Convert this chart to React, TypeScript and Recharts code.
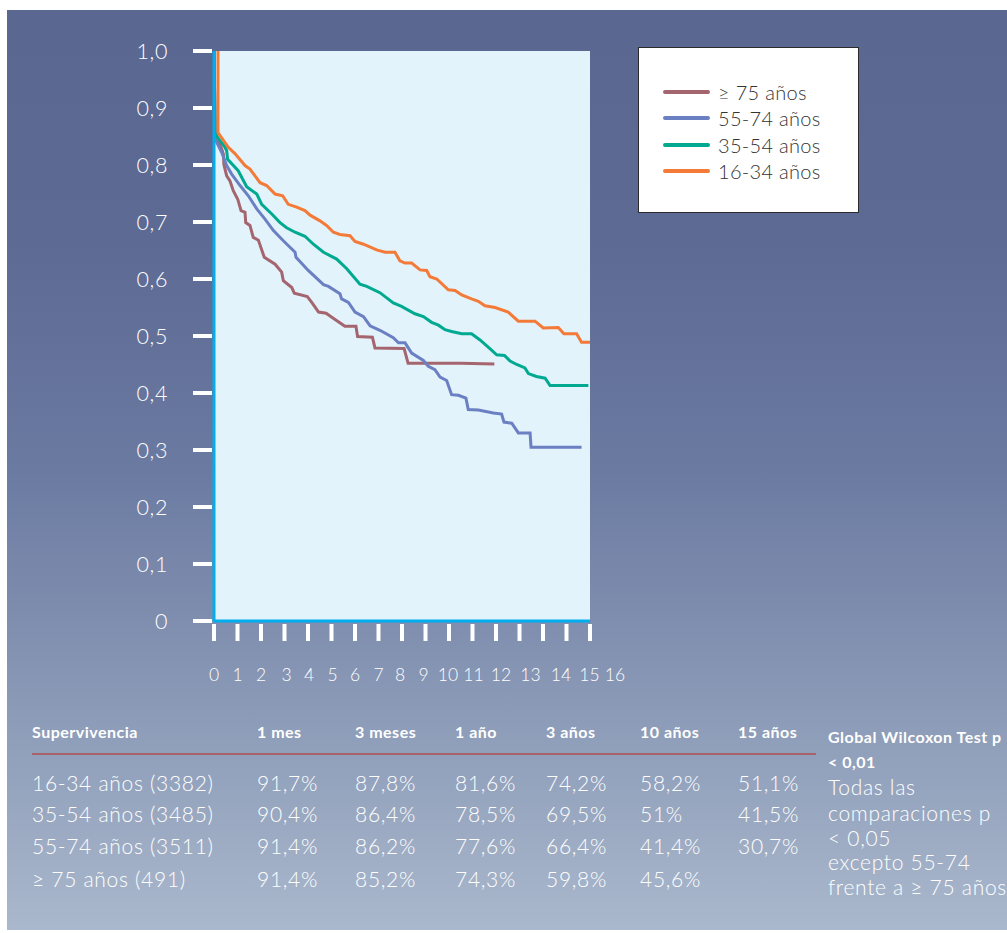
import React from 'react';
import { LineChart, Line, XAxis, YAxis, CartesianGrid, Legend } from 'recharts';

// ---- data ----
const seriesNames = ['≥ 75 años', '55-74 años', '35-54 años', '16-34 años'];
const seriesColors = ['#a5656f', '#6b7fc3', '#00a98f', '#f47a38'];

const age75plus: [number, number][] = [
  [0, 1], [0.05, 0.86], [0.16, 0.845], [0.33, 0.828], [0.4, 0.819], [0.42, 0.801], [0.54, 0.781],
  [0.68, 0.772], [0.82, 0.755], [1.01, 0.74], [1.15, 0.72], [1.32, 0.717], [1.35, 0.699], [1.53, 0.694],
  [1.67, 0.673], [1.89, 0.668], [2.14, 0.638], [2.6, 0.626], [2.88, 0.612], [2.95, 0.597], [3.31, 0.585],
  [3.42, 0.575], [3.97, 0.569], [4.16, 0.559], [4.45, 0.542], [4.77, 0.54], [5.12, 0.53], [5.57, 0.517],
  [6.04, 0.517], [6.11, 0.499], [6.74, 0.498], [6.85, 0.479], [8.09, 0.478], [8.26, 0.452], [10.5, 0.452],
  [11.93, 0.451],
];
const age55to74: [number, number][] = [
  [0, 1], [0.05, 0.855], [0.09, 0.842], [0.33, 0.822], [0.54, 0.799], [0.75, 0.784], [1.11, 0.764],
  [1.46, 0.746], [1.82, 0.723], [2.17, 0.705], [2.53, 0.685], [2.95, 0.667], [3.45, 0.647], [3.49, 0.638],
  [4.01, 0.615], [4.66, 0.59], [4.87, 0.587], [5.36, 0.574], [5.43, 0.565], [5.72, 0.559], [6.0, 0.542],
  [6.36, 0.534], [6.64, 0.518], [7.06, 0.51], [7.63, 0.497], [7.85, 0.488], [8.13, 0.488], [8.41, 0.47],
  [8.91, 0.457], [9.12, 0.447], [9.4, 0.441], [9.62, 0.428], [9.9, 0.422], [10.11, 0.397], [10.4, 0.396],
  [10.72, 0.391], [10.82, 0.371], [11.25, 0.37], [11.89, 0.365], [12.24, 0.363], [12.34, 0.349],
  [12.67, 0.347], [12.95, 0.33], [13.45, 0.33], [13.49, 0.305], [15.64, 0.305],
];
const age35to54: [number, number][] = [
  [0, 1], [0.05, 0.854], [0.47, 0.831], [0.54, 0.825], [0.58, 0.81], [1.03, 0.79], [1.39, 0.762],
  [1.82, 0.749], [2.03, 0.731], [2.46, 0.714], [2.81, 0.699], [3.09, 0.69], [3.45, 0.682], [3.87, 0.675],
  [4.23, 0.661], [4.66, 0.647], [5.22, 0.635], [5.65, 0.618], [6.21, 0.591], [6.5, 0.587], [7.06, 0.576],
  [7.63, 0.558], [7.98, 0.552], [8.55, 0.539], [8.91, 0.534], [9.26, 0.524], [9.55, 0.519], [9.83, 0.511],
  [10.11, 0.508], [10.54, 0.504], [10.96, 0.504], [11.32, 0.493], [11.74, 0.478], [12.03, 0.467],
  [12.36, 0.466], [12.6, 0.456], [12.88, 0.45], [13.23, 0.444], [13.38, 0.434], [13.72, 0.429],
  [14.09, 0.426], [14.3, 0.413], [15.93, 0.413],
];
const age16to34: [number, number][] = [
  [0.17, 1], [0.17, 0.857], [0.61, 0.831], [0.89, 0.82], [1.32, 0.799], [1.53, 0.793], [1.96, 0.769],
  [2.24, 0.764], [2.6, 0.749], [2.92, 0.746], [3.16, 0.731], [3.52, 0.726], [3.87, 0.72], [4.09, 0.712],
  [4.51, 0.702], [4.79, 0.694], [5.08, 0.682], [5.36, 0.678], [5.79, 0.676], [6.0, 0.666], [6.36, 0.661],
  [6.92, 0.651], [7.28, 0.647], [7.7, 0.647], [7.91, 0.632], [8.13, 0.628], [8.41, 0.628], [8.77, 0.616],
  [9.05, 0.615], [9.19, 0.604], [9.48, 0.6], [9.97, 0.581], [10.26, 0.58], [10.54, 0.572], [10.96, 0.565],
  [11.25, 0.561], [11.53, 0.553], [11.96, 0.55], [12.52, 0.542], [12.95, 0.526], [13.66, 0.526],
  [14.01, 0.514], [14.65, 0.515], [14.89, 0.504], [15.43, 0.504], [15.64, 0.489], [16, 0.489],
];
const seriesPoints = [age75plus, age55to74, age35to54, age16to34];

const xTicks = [0, 1, 2, 3, 4, 5, 6, 7, 8, 9, 10, 11, 12, 13, 14, 15, 16];
const yTicks = [0, 0.1, 0.2, 0.3, 0.4, 0.5, 0.6, 0.7, 0.8, 0.9, 1.0];

const tableHeader = ['Supervivencia', '1 mes', '3 meses', '1 año', '3 años', '10 años', '15 años'];
const tableLabels = ['16-34 años (3382)', '35-54 años (3485)', '55-74 años (3511)', '≥ 75 años (491)'];
const row1634 = ['91,7%', '87,8%', '81,6%', '74,2%', '58,2%', '51,1%'];
const row3554 = ['90,4%', '86,4%', '78,5%', '69,5%', '51%', '41,5%'];
const row5574 = ['91,4%', '86,2%', '77,6%', '66,4%', '41,4%', '30,7%'];
const row75 = ['91,4%', '85,2%', '74,3%', '59,8%', '45,6%', ''];
const tableRows = [row1634, row3554, row5574, row75];
const noteBold = ['Global Wilcoxon Test p', '< 0,01'];
const noteLines = ['Todas las', 'comparaciones p', '< 0,05', 'excepto 55-74', 'frente a ≥ 75 años'];

// ---- styles ----
const FONT = 'Lato, "Open Sans", sans-serif';
const colX = [32, 257, 355, 455, 546, 640, 738];
const rowTop = [771, 802, 834, 867];
const noteTops = [775, 801, 826, 850, 875];
const xLabelShift = [0, 0, 0, 2, 1, 1, 0, 0, -2, -2, -1, 1, 5, 11, 18, 23, 25];

const fmtY = (v: number) => (v === 0 ? '0' : v.toFixed(1).replace('.', ','));

const YTick = (props: any) => {
  const { x, y, payload } = props;
  return (
    <g>
      <rect x={x - 21} y={y - 2} width={19} height={4} fill="#ffffff" />
      <text x={x - 46} y={y} dy={7.5} textAnchor="end" fill="#ffffff" fontSize={21.5} letterSpacing={0.6} fontFamily={FONT} fontWeight={300}>
        {fmtY(payload.value)}
      </text>
    </g>
  );
};

const XTick = (props: any) => {
  const { x, y, payload, index } = props;
  return (
    <g>
      <rect x={x - 2} y={y + 3} width={4} height={17} fill="#ffffff" />
      <text x={x + (xLabelShift[index] || 0)} y={y + 60} textAnchor="middle" fill="#ffffff" fontSize={17.5} fontFamily={FONT} fontWeight={300}>
        {payload.value}
      </text>
    </g>
  );
};

const LegendBox = () => (
  <div
    style={{
      width: 219,
      height: 164,
      background: '#ffffff',
      border: '1px solid #2b2b2b',
      position: 'relative',
      fontFamily: FONT,
    }}
  >
    {seriesNames.map((n, i) => (
      <div key={n} style={{ position: 'absolute', left: 24, top: 33 + i * 26.3, height: 22, display: 'flex', alignItems: 'center' }}>
        <div style={{ width: 47, height: 4, borderRadius: 2, background: seriesColors[i] }} />
        <span style={{ marginLeft: 8, fontSize: 20, letterSpacing: 0.3, color: '#333333', fontWeight: 300, whiteSpace: 'nowrap' }}>{n}</span>
      </div>
    ))}
  </div>
);

const headStyle: React.CSSProperties = { position: 'absolute', fontSize: 16, letterSpacing: 0.5, fontWeight: 700, color: '#ffffff', lineHeight: '20px', whiteSpace: 'nowrap' };
const cellStyle: React.CSSProperties = { position: 'absolute', fontSize: 21, letterSpacing: 0.7, fontWeight: 300, color: '#ffffff', lineHeight: '24px', whiteSpace: 'nowrap' };

export default function App() {
  return (
    <div style={{ position: 'absolute', left: 0, top: 0, width: 1007, height: 933, background: '#ffffff', overflow: 'hidden', fontFamily: FONT }}>
      <div
        style={{
          position: 'absolute',
          left: 7,
          top: 10,
          width: 1000,
          height: 920,
          background: 'linear-gradient(to bottom, #5a6791 0%, #5d6a94 25%, #6b7aa1 50%, #8695b3 72%, #a9b8cc 100%)',
        }}
      />
      <div style={{ position: 'absolute', left: 0, top: 0 }}>
        <LineChart width={1007} height={700} margin={{ top: 51, right: 417, left: 0, bottom: 19 }}>
          <CartesianGrid horizontal={false} vertical={false} fill="#e2f3fb" />
          <XAxis
            type="number"
            dataKey="t"
            domain={[0, 16]}
            ticks={xTicks}
            allowDataOverflow
            height={60}
            tickSize={0}
            tickMargin={0}
            tickLine={false}
            axisLine={{ stroke: '#00aeef', strokeWidth: 3 }}
            tick={<XTick />}
            interval={0}
          />
          <YAxis
            type="number"
            domain={[0, 1]}
            ticks={yTicks}
            width={214}
            tickSize={0}
            tickMargin={0}
            tickLine={false}
            axisLine={{ stroke: '#00aeef', strokeWidth: 3 }}
            tick={<YTick />}
            interval={0}
          />
          <Legend
            layout="vertical"
            align="center"
            verticalAlign="middle"
            wrapperStyle={{ left: 638, top: 47, width: 221, height: 166 }}
            content={() => <LegendBox />}
          />
          {seriesPoints.map((pts, i) => (
            <Line
              key={seriesNames[i]}
              name={seriesNames[i]}
              data={pts.map(([t, v]) => ({ t, v }))}
              dataKey="v"
              type="linear"
              stroke={seriesColors[i]}
              strokeWidth={3}
              dot={false}
              activeDot={false}
              isAnimationActive={false}
            />
          ))}
        </LineChart>
      </div>
      {/* table */}
      {tableHeader.map((h, i) => (
        <div key={h} style={{ ...headStyle, left: colX[i], top: 722 }}>
          {h}
        </div>
      ))}
      <div style={{ position: 'absolute', left: 32, top: 753, width: 784, height: 2, background: '#a8626c' }} />
      {tableLabels.map((lab, r) => (
        <React.Fragment key={lab}>
          <div style={{ ...cellStyle, left: colX[0], top: rowTop[r] }}>{lab}</div>
          {tableRows[r].map((v, c) => (
            <div key={c} style={{ ...cellStyle, left: colX[c + 1], top: rowTop[r] }}>
              {v}
            </div>
          ))}
        </React.Fragment>
      ))}
      {noteBold.map((t, i) => (
        <div key={t} style={{ ...headStyle, left: 828, top: 727 + i * 25 }}>
          {t}
        </div>
      ))}
      {noteLines.map((t, i) => (
        <div key={t} style={{ ...cellStyle, left: 828, top: noteTops[i] }}>
          {t}
        </div>
      ))}
    </div>
  );
}
